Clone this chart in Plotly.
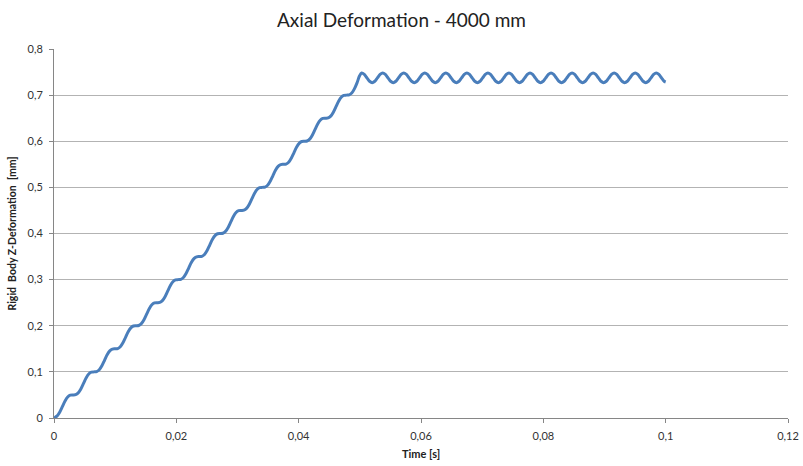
import plotly.graph_objects as go

# Rigid body Z-deformation over time: stepped ramp up to ~0.75 mm,
# followed by a steady oscillation around ~0.737 mm.
time_s = [
    0.00000,
    0.00009, 0.00052, 0.00095, 0.00138, 0.00181, 0.00224, 0.00267, 0.00310,
    0.00353, 0.00396, 0.00439, 0.00482, 0.00525, 0.00568, 0.00611, 0.00654,
    0.00697, 0.00740, 0.00783, 0.00826, 0.00869, 0.00912, 0.00955, 0.00998,
    0.01041, 0.01084, 0.01127, 0.01170, 0.01213, 0.01256, 0.01299, 0.01342,
    0.01385, 0.01428, 0.01471, 0.01514, 0.01557, 0.01600, 0.01643, 0.01686,
    0.01729, 0.01772, 0.01815, 0.01858, 0.01901, 0.01944, 0.01987, 0.02030,
    0.02073, 0.02116, 0.02159, 0.02202, 0.02245, 0.02288, 0.02331, 0.02374,
    0.02417, 0.02460, 0.02503, 0.02546, 0.02589, 0.02632, 0.02675, 0.02718,
    0.02761, 0.02804, 0.02847, 0.02890, 0.02933, 0.02976, 0.03019, 0.03062,
    0.03105, 0.03148, 0.03191, 0.03234, 0.03277, 0.03320, 0.03363, 0.03406,
    0.03449, 0.03492, 0.03535, 0.03578, 0.03621, 0.03664, 0.03707, 0.03750,
    0.03793, 0.03836, 0.03879, 0.03922, 0.03965, 0.04008, 0.04051, 0.04094,
    0.04137, 0.04180, 0.04223, 0.04266, 0.04309, 0.04352, 0.04395, 0.04438,
    0.04481, 0.04524, 0.04567, 0.04610, 0.04653, 0.04696, 0.04739, 0.04782,
    0.04825, 0.04868, 0.04911, 0.04954, 0.04994, 0.05030,
    0.05073, 0.05116, 0.05159, 0.05202, 0.05245, 0.05288, 0.05331, 0.05374,
    0.05417, 0.05460, 0.05503, 0.05546, 0.05589, 0.05632, 0.05675, 0.05718,
    0.05761, 0.05804, 0.05847, 0.05890, 0.05933, 0.05976, 0.06019, 0.06062,
    0.06105, 0.06148, 0.06191, 0.06234, 0.06277, 0.06320, 0.06363, 0.06406,
    0.06449, 0.06492, 0.06535, 0.06578, 0.06621, 0.06664, 0.06707, 0.06750,
    0.06793, 0.06836, 0.06879, 0.06922, 0.06965, 0.07008, 0.07051, 0.07094,
    0.07137, 0.07180, 0.07223, 0.07266, 0.07309, 0.07352, 0.07395, 0.07438,
    0.07481, 0.07524, 0.07567, 0.07610, 0.07653, 0.07696, 0.07739, 0.07782,
    0.07825, 0.07868, 0.07911, 0.07954, 0.07997, 0.08040, 0.08083, 0.08126,
    0.08169, 0.08212, 0.08255, 0.08298, 0.08341, 0.08384, 0.08427, 0.08470,
    0.08513, 0.08556, 0.08599, 0.08642, 0.08685, 0.08728, 0.08771, 0.08814,
    0.08857, 0.08900, 0.08943, 0.08986, 0.09029, 0.09072, 0.09115, 0.09158,
    0.09201, 0.09244, 0.09287, 0.09330, 0.09373, 0.09416, 0.09459, 0.09502,
    0.09545, 0.09588, 0.09631, 0.09674, 0.09717, 0.09760, 0.09803, 0.09846,
    0.09889, 0.09932, 0.09975, 0.10000,
]
deformation_mm = [
    0.0000,
    0.0006, 0.0045, 0.0131, 0.0250, 0.0369, 0.0455, 0.0494, 0.0500,
    0.0506, 0.0545, 0.0631, 0.0750, 0.0869, 0.0955, 0.0994, 0.1000,
    0.1006, 0.1045, 0.1131, 0.1250, 0.1369, 0.1455, 0.1494, 0.1500,
    0.1506, 0.1545, 0.1631, 0.1750, 0.1869, 0.1955, 0.1994, 0.2000,
    0.2006, 0.2045, 0.2131, 0.2250, 0.2369, 0.2455, 0.2494, 0.2500,
    0.2506, 0.2545, 0.2631, 0.2750, 0.2869, 0.2955, 0.2994, 0.3000,
    0.3006, 0.3045, 0.3131, 0.3250, 0.3369, 0.3455, 0.3494, 0.3500,
    0.3506, 0.3545, 0.3631, 0.3750, 0.3869, 0.3955, 0.3994, 0.4000,
    0.4006, 0.4045, 0.4131, 0.4250, 0.4369, 0.4455, 0.4494, 0.4500,
    0.4506, 0.4545, 0.4631, 0.4750, 0.4869, 0.4955, 0.4994, 0.5000,
    0.5006, 0.5045, 0.5131, 0.5250, 0.5369, 0.5455, 0.5494, 0.5500,
    0.5506, 0.5545, 0.5631, 0.5750, 0.5869, 0.5955, 0.5994, 0.6000,
    0.6006, 0.6045, 0.6131, 0.6250, 0.6369, 0.6455, 0.6494, 0.6500,
    0.6506, 0.6545, 0.6631, 0.6750, 0.6869, 0.6955, 0.6994, 0.7000,
    0.7006, 0.7045, 0.7135, 0.7265, 0.7415, 0.7480,
    0.7449, 0.7375, 0.7301, 0.7270, 0.7301, 0.7375, 0.7449, 0.7480,
    0.7449, 0.7375, 0.7301, 0.7270, 0.7301, 0.7375, 0.7449, 0.7480,
    0.7449, 0.7375, 0.7301, 0.7270, 0.7301, 0.7375, 0.7449, 0.7480,
    0.7449, 0.7375, 0.7301, 0.7270, 0.7301, 0.7375, 0.7449, 0.7480,
    0.7449, 0.7375, 0.7301, 0.7270, 0.7301, 0.7375, 0.7449, 0.7480,
    0.7449, 0.7375, 0.7301, 0.7270, 0.7301, 0.7375, 0.7449, 0.7480,
    0.7449, 0.7375, 0.7301, 0.7270, 0.7301, 0.7375, 0.7449, 0.7480,
    0.7449, 0.7375, 0.7301, 0.7270, 0.7301, 0.7375, 0.7449, 0.7480,
    0.7449, 0.7375, 0.7301, 0.7270, 0.7301, 0.7375, 0.7449, 0.7480,
    0.7449, 0.7375, 0.7301, 0.7270, 0.7301, 0.7375, 0.7449, 0.7480,
    0.7449, 0.7375, 0.7301, 0.7270, 0.7301, 0.7375, 0.7449, 0.7480,
    0.7449, 0.7375, 0.7301, 0.7270, 0.7301, 0.7375, 0.7449, 0.7480,
    0.7449, 0.7375, 0.7301, 0.7270, 0.7301, 0.7375, 0.7449, 0.7480,
    0.7449, 0.7375, 0.7301, 0.7270, 0.7301, 0.7375, 0.7449, 0.7480,
    0.7449, 0.7375, 0.7301, 0.7285,
]

x_ticks = [0, 0.02, 0.04, 0.06, 0.08, 0.1, 0.12]
y_ticks = [0, 0.1, 0.2, 0.3, 0.4, 0.5, 0.6, 0.7, 0.8]

FONT = "Lato"
AXIS_GREY = "#868686"

fig = go.Figure()
fig.add_trace(go.Scatter(
    x=time_s, y=deformation_mm, mode="lines",
    line=dict(color="#4A7EBB", width=3, shape="spline", smoothing=0.8),
    showlegend=False,
))

fig.update_layout(
    width=803, height=466,
    margin=dict(l=54, r=15, t=49, b=48),
    paper_bgcolor="white", plot_bgcolor="white",
    separators=", ",
    font=dict(family=FONT, size=11, color="#333333"),
    title=dict(text="Axial Deformation - 4000 mm", x=0.5, xanchor="center",
               y=0.957, yanchor="middle",
               font=dict(family=FONT, size=19, color="#222222")),
    xaxis=dict(
        range=[0, 0.12], tickvals=x_ticks, showgrid=False,
        showline=True, linecolor=AXIS_GREY, linewidth=1,
        ticks="outside", ticklen=4, tickcolor=AXIS_GREY,
        ticklabelstandoff=4, automargin=False,
        zeroline=False,
        title=dict(text="<b>Time [s]</b>", font=dict(family=FONT, size=11, color="#222222"),
                   standoff=9),
    ),
    yaxis=dict(
        range=[0, 0.8], tickvals=y_ticks, showgrid=True, gridcolor="#B3B3B3",
        gridwidth=1, showline=True, linecolor=AXIS_GREY, linewidth=1,
        ticks="outside", ticklen=4, tickcolor=AXIS_GREY,
        ticklabelstandoff=4, automargin=False,
        zeroline=False,
        title=dict(text="<b>Rigid  Body Z-Deformation  [mm]</b>",
                   font=dict(family=FONT, size=10.5, color="#222222"), standoff=8),
    ),
)

fig.write_html("out.html")
